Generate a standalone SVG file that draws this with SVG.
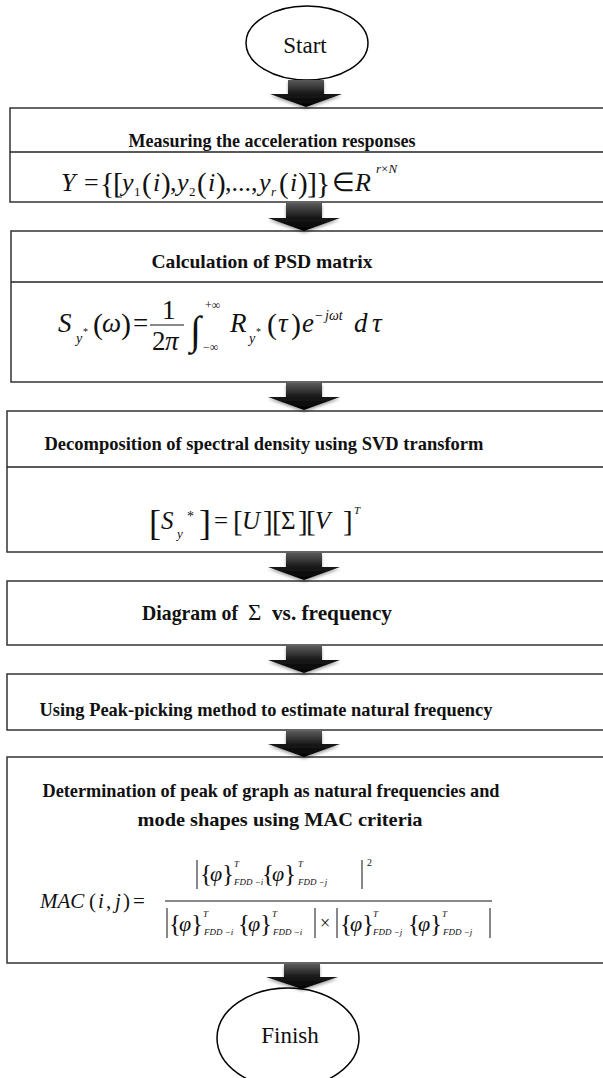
<svg xmlns="http://www.w3.org/2000/svg" width="603" height="1078" viewBox="0 0 603 1078" font-family="'Liberation Serif', 'Times New Roman', serif">
<style>
.bg{fill:#fff}
.box{fill:#fff;stroke:#333;stroke-width:1.5}
.div{stroke:#222;stroke-width:1.5}
.term{fill:#fff;stroke:#000;stroke-width:1.5}
.t{font-family:"Liberation Serif","Times New Roman",serif;font-weight:bold;font-size:19px;text-anchor:middle;fill:#111}
.tl{font-family:"Liberation Serif","Times New Roman",serif;font-size:23px;text-anchor:middle;fill:#111}
.m{font-family:"Liberation Serif","Times New Roman",serif;fill:#111}
.i{font-style:italic}
.bar{stroke:#111;stroke-width:1}
.arr{fill:url(#ag);filter:url(#sh)}
</style>
<defs>
<linearGradient id="ag" x1="0" y1="0" x2="0" y2="1">
<stop offset="0" stop-color="#5a5a5a"/>
<stop offset="0.5" stop-color="#1a1a1a"/>
<stop offset="1" stop-color="#000"/>
</linearGradient>
<filter id="sh" x="-20%" y="-20%" width="140%" height="160%">
<feGaussianBlur in="SourceAlpha" stdDeviation="1.8"/>
<feOffset dy="1.5" result="b"/>
<feFlood flood-color="#000" flood-opacity="0.35"/>
<feComposite in2="b" operator="in"/>
<feMerge><feMergeNode/><feMergeNode in="SourceGraphic"/></feMerge>
</filter>
</defs>
<rect class="bg" x="0" y="0" width="603" height="1078"/>

<g id="start">
<ellipse class="term" cx="307" cy="43" rx="61" ry="37"/>
<text class="tl" x="305" y="53">Start</text>
</g>

<g id="step1">
<rect class="box" x="10" y="108" width="600" height="94"/>
<line class="div" x1="10" y1="152" x2="610" y2="152"/>
<text class="t" x="272" y="147" textLength="287" lengthAdjust="spacingAndGlyphs">Measuring the acceleration responses</text>
<text class="m" font-size="26">
<tspan class="i" x="61" y="191">Y</tspan>
<tspan x="84" y="191">=</tspan>
<tspan x="100" y="193" font-size="30">{</tspan>
<tspan x="113" y="193" font-size="30">[</tspan>
<tspan class="i" x="122" y="191">y</tspan>
<tspan x="134" y="196" font-size="13">1</tspan>
<tspan x="142" y="193" font-size="29">(</tspan>
<tspan class="i" x="153" y="191">i</tspan>
<tspan x="161" y="193" font-size="29">)</tspan>
<tspan x="170" y="191">,</tspan>
<tspan class="i" x="177" y="191">y</tspan>
<tspan x="189" y="196" font-size="13">2</tspan>
<tspan x="197" y="193" font-size="29">(</tspan>
<tspan class="i" x="208" y="191">i</tspan>
<tspan x="216" y="193" font-size="29">)</tspan>
<tspan x="225" y="191">,...,</tspan>
<tspan class="i" x="259" y="191">y</tspan>
<tspan class="i" x="271" y="196" font-size="13">r</tspan>
<tspan x="279" y="193" font-size="29">(</tspan>
<tspan class="i" x="290" y="191">i</tspan>
<tspan x="298" y="193" font-size="29">)</tspan>
<tspan x="307" y="193" font-size="30">]</tspan>
<tspan x="316" y="193" font-size="30">}</tspan>
<tspan x="332" y="191">∈</tspan>
</text>
<text class="m i" font-size="26" x="355" y="191">R</text>
<text class="m" font-size="13" x="376" y="173"><tspan class="i">r</tspan>×<tspan class="i">N</tspan></text>
</g>

<g id="step2">
<rect class="box" x="11" y="231" width="600" height="151"/>
<line class="div" x1="11" y1="282" x2="610" y2="282"/>
<text class="t" x="262" y="268" textLength="221" lengthAdjust="spacingAndGlyphs">Calculation of PSD matrix</text>
<text class="m" font-size="27">
<tspan class="i" x="58" y="332">S</tspan>
<tspan class="i" x="76" y="343" font-size="14">y</tspan>
<tspan x="83" y="335" font-size="10">*</tspan>
<tspan x="93" y="334" font-size="30">(</tspan>
<tspan class="i" x="102" y="332">ω</tspan>
<tspan x="121" y="334" font-size="30">)</tspan>
<tspan x="133" y="332">=</tspan>
<tspan x="162" y="319">1</tspan>
<tspan x="152" y="350">2</tspan>
<tspan class="i" x="165" y="350">π</tspan>
<tspan x="190" y="344" font-size="40">∫</tspan>
<tspan x="205" y="309" font-size="12">+∞</tspan>
<tspan x="203" y="351" font-size="12">−∞</tspan>
<tspan class="i" x="230" y="332">R</tspan>
<tspan class="i" x="249" y="343" font-size="14">y</tspan>
<tspan x="256" y="335" font-size="10">*</tspan>
<tspan x="267" y="334" font-size="30">(</tspan>
<tspan class="i" x="278" y="332">τ</tspan>
<tspan x="291" y="334" font-size="30">)</tspan>
<tspan class="i" x="302" y="332">e</tspan>
<tspan x="315" y="320" font-size="14">−</tspan>
<tspan class="i" x="325" y="320" font-size="14">jωt</tspan>
<tspan class="i" x="354" y="332">d</tspan>
<tspan class="i" x="372" y="332">τ</tspan>
</text>
<line class="bar" x1="150" y1="325" x2="184" y2="325"/>
</g>

<g id="step3">
<rect class="box" x="7" y="411" width="603" height="141"/>
<line class="div" x1="7" y1="467" x2="610" y2="467"/>
<text class="t" x="264" y="450" textLength="439" lengthAdjust="spacingAndGlyphs">Decomposition of spectral density using SVD transform</text>
<text class="m" font-size="25">
<tspan x="149" y="535" font-size="36">[</tspan>
<tspan class="i" x="161" y="529">S</tspan>
<tspan class="i" x="177" y="538" font-size="13">y</tspan>
<tspan x="187" y="521" font-size="14">*</tspan>
<tspan x="199" y="535" font-size="36">]</tspan>
<tspan x="214" y="529">=</tspan>
<tspan x="233" y="531" font-size="29">[</tspan>
<tspan class="i" x="242" y="529">U</tspan>
<tspan x="263" y="531" font-size="29">]</tspan>
<tspan x="272" y="531" font-size="29">[</tspan>
<tspan x="281" y="529">Σ</tspan>
<tspan x="298" y="531" font-size="29">]</tspan>
<tspan x="306" y="531" font-size="29">[</tspan>
<tspan class="i" x="315" y="529">V</tspan>
<tspan x="343" y="531" font-size="29">]</tspan>
<tspan class="i" x="354" y="514" font-size="11">T</tspan>
</text>
</g>

<g id="step4">
<rect class="box" x="7" y="581" width="603" height="64"/>
<text class="m" font-size="22" font-weight="bold" x="142" y="620" textLength="96" lengthAdjust="spacingAndGlyphs">Diagram of</text>
<text class="m" font-size="23" x="248" y="620">Σ</text>
<text class="m" font-size="22" font-weight="bold" x="272" y="620" textLength="120" lengthAdjust="spacingAndGlyphs">vs. frequency</text>
</g>

<g id="step5">
<rect class="box" x="7" y="674" width="603" height="56"/>
<text class="t" x="266" y="716" textLength="453" lengthAdjust="spacingAndGlyphs">Using Peak-picking method to estimate natural frequency</text>
</g>

<g id="step6">
<rect class="box" x="7" y="757" width="603" height="206"/>
<text class="t" x="271" y="797" textLength="457" lengthAdjust="spacingAndGlyphs">Determination of peak of graph as natural frequencies and</text>
<text class="t" x="280" y="826" textLength="285" lengthAdjust="spacingAndGlyphs">mode shapes using MAC criteria</text>
<text class="m" font-size="21">
<tspan class="i" x="40" y="908">MAC</tspan>
<tspan x="89" y="908">(</tspan>
<tspan class="i" x="98" y="908">i</tspan>
<tspan x="106" y="908">,</tspan>
<tspan class="i" x="115" y="908">j</tspan>
<tspan x="123" y="908">)</tspan>
<tspan x="133" y="908">=</tspan>
</text>
<line class="bar" x1="165" y1="901" x2="492" y2="901"/>
<g class="m" font-size="22">
<text x="200" y="882" font-size="25">{</text><text class="i" x="210" y="881">φ</text><text x="222" y="882" font-size="25">}</text>
<text class="i" x="234" y="867" font-size="9">T</text><text class="i" x="234" y="885" font-size="9">FDD −i</text>
<text x="262" y="882" font-size="25">{</text><text class="i" x="272" y="881">φ</text><text x="284" y="882" font-size="25">}</text>
<text class="i" x="298" y="867" font-size="9">T</text><text class="i" x="298" y="885" font-size="9">FDD −j</text>
<text x="367" y="866" font-size="10">2</text>
<text x="169" y="932" font-size="25">{</text><text class="i" x="179" y="931">φ</text><text x="191" y="932" font-size="25">}</text>
<text class="i" x="203" y="917" font-size="9">T</text><text class="i" x="204" y="935" font-size="9">FDD −i</text>
<text x="238" y="932" font-size="25">{</text><text class="i" x="248" y="931">φ</text><text x="260" y="932" font-size="25">}</text>
<text class="i" x="272" y="917" font-size="9">T</text><text class="i" x="273" y="935" font-size="9">FDD −i</text>
<text x="320" y="929" font-size="18">×</text>
<text x="340" y="932" font-size="25">{</text><text class="i" x="350" y="931">φ</text><text x="362" y="932" font-size="25">}</text>
<text class="i" x="373" y="917" font-size="9">T</text><text class="i" x="373" y="935" font-size="9">FDD −j</text>
<text x="408" y="932" font-size="25">{</text><text class="i" x="418" y="931">φ</text><text x="430" y="932" font-size="25">}</text>
<text class="i" x="442" y="917" font-size="9">T</text><text class="i" x="443" y="935" font-size="9">FDD −j</text>
</g>
<g class="bar">
<line x1="197" y1="860" x2="197" y2="889"/>
<line x1="362" y1="860" x2="362" y2="889"/>
<line x1="167" y1="908" x2="167" y2="938"/>
<line x1="315" y1="908" x2="315" y2="938"/>
<line x1="337" y1="908" x2="337" y2="938"/>
<line x1="490" y1="908" x2="490" y2="938"/>
</g>
</g>

<g id="finish">
<ellipse class="term" cx="288" cy="1038" rx="71" ry="50"/>
<text class="tl" x="290" y="1043">Finish</text>
</g>

<g id="connectors">
<path class="arr" d="M288,80 H324 V94 H342 L306,107 L270,94 H288 Z"/>
<path class="arr" d="M286,203 H322 V218 H340 L304,231 L268,218 H286 Z"/>
<path class="arr" d="M286,383 H322 V397 H340 L304,410 L268,397 H286 Z"/>
<path class="arr" d="M286,553 H322 V567 H340 L304,580 L268,567 H286 Z"/>
<path class="arr" d="M286,646 H322 V660 H340 L304,673 L268,660 H286 Z"/>
<path class="arr" d="M286,731 H322 V744 H340 L304,757 L268,744 H286 Z"/>
<path class="arr" d="M284,964 H320 V977 H338 L302,989 L266,977 H284 Z"/>
</g>
</svg>
